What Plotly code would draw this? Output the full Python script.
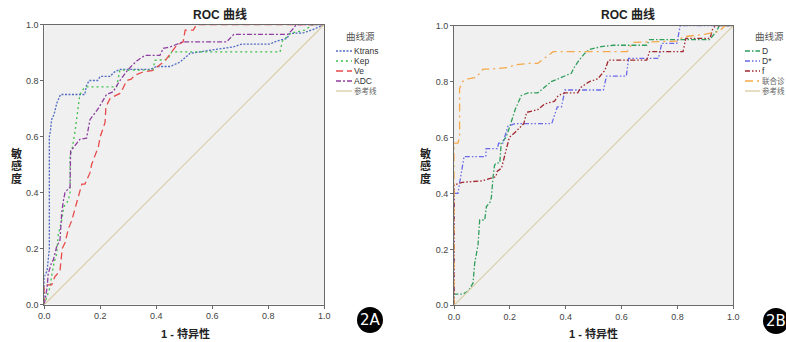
import plotly.graph_objects as go

W, H = 786, 342

# ---------------- data ----------------
ticks = [0.0, 0.2, 0.4, 0.6, 0.8, 1.0]
ref_line = [0.0, 1.0]

# Panel A
ktrans_fpr = [0, 0, 0.01, 0.018, 0.018, 0.022, 0.026, 0.035, 0.045, 0.058, 0.145, 0.15, 0.16, 0.19, 0.2, 0.235, 0.25, 0.27, 0.38, 0.4, 0.45, 0.485, 0.52, 0.556, 0.64, 0.675, 0.705, 0.806, 0.83, 0.866, 0.877, 0.925, 0.96, 1]
ktrans_tpr = [0, 0.1, 0.12, 0.2, 0.6, 0.62, 0.66, 0.68, 0.72, 0.75, 0.75, 0.78, 0.8, 0.8, 0.815, 0.815, 0.83, 0.84, 0.84, 0.85, 0.85, 0.866, 0.897, 0.902, 0.914, 0.92, 0.93, 0.93, 0.941, 0.95, 0.968, 0.97, 0.982, 1]

kep_fpr = [0, 0.01, 0.02, 0.026, 0.035, 0.044, 0.05, 0.062, 0.07, 0.085, 0.092, 0.092, 0.1, 0.11, 0.116, 0.12, 0.127, 0.14, 0.151, 0.258, 0.27, 0.388, 0.395, 0.44, 0.455, 0.842, 0.85, 0.88, 0.93, 0.96, 1]
kep_tpr = [0, 0.03, 0.06, 0.1, 0.15, 0.18, 0.25, 0.3, 0.35, 0.37, 0.4, 0.53, 0.56, 0.62, 0.66, 0.7, 0.75, 0.77, 0.777, 0.777, 0.837, 0.837, 0.872, 0.875, 0.902, 0.902, 0.94, 0.969, 0.98, 1, 1]

ve_fpr = [0, 0, 0.026, 0.038, 0.056, 0.064, 0.074, 0.086, 0.098, 0.127, 0.134, 0.145, 0.163, 0.169, 0.193, 0.2, 0.211, 0.217, 0.22, 0.235, 0.27, 0.28, 0.294, 0.31, 0.324, 0.354, 0.385, 0.395, 0.431, 0.455, 0.473, 0.496, 0.503, 0.532, 0.544, 1]
ve_tpr = [0, 0.07, 0.07, 0.1, 0.12, 0.2, 0.22, 0.27, 0.3, 0.4, 0.43, 0.43, 0.47, 0.5, 0.563, 0.6, 0.629, 0.65, 0.706, 0.736, 0.754, 0.77, 0.8, 0.805, 0.819, 0.831, 0.835, 0.843, 0.87, 0.902, 0.926, 0.938, 0.98, 0.98, 1, 1]

adc_fpr = [0, 0.005, 0.01, 0.014, 0.026, 0.032, 0.044, 0.056, 0.06, 0.062, 0.068, 0.074, 0.092, 0.094, 0.104, 0.127, 0.151, 0.163, 0.193, 0.222, 0.246, 0.27, 0.3, 0.33, 0.36, 0.413, 0.425, 0.45, 0.495, 0.651, 0.677, 0.87, 0.89, 0.9, 1]
adc_tpr = [0, 0.03, 0.06, 0.11, 0.15, 0.158, 0.206, 0.23, 0.3, 0.325, 0.37, 0.4, 0.42, 0.55, 0.56, 0.59, 0.594, 0.66, 0.7, 0.75, 0.76, 0.8, 0.84, 0.87, 0.89, 0.89, 0.915, 0.92, 0.938, 0.938, 0.965, 0.965, 0.986, 1, 1]

# Panel B
d_fpr = [0, 0, 0.032, 0.05, 0.068, 0.074, 0.086, 0.092, 0.11, 0.116, 0.13, 0.134, 0.14, 0.145, 0.15, 0.164, 0.169, 0.186, 0.2, 0.219, 0.241, 0.265, 0.3, 0.325, 0.348, 0.373, 0.397, 0.42, 0.43, 0.443, 0.467, 0.485, 0.527, 0.57, 0.69, 0.7, 0.915, 0.94, 0.95, 1]
d_tpr = [0, 0.04, 0.04, 0.05, 0.079, 0.15, 0.216, 0.305, 0.305, 0.353, 0.37, 0.388, 0.46, 0.5, 0.508, 0.51, 0.58, 0.6, 0.64, 0.7, 0.75, 0.76, 0.76, 0.78, 0.8, 0.81, 0.82, 0.83, 0.85, 0.87, 0.9, 0.915, 0.925, 0.93, 0.93, 0.95, 0.95, 0.98, 1, 1]

dstar_fpr = [0, 0, 0.014, 0.025, 0.036, 0.114, 0.115, 0.155, 0.16, 0.175, 0.193, 0.22, 0.35, 0.37, 0.385, 0.397, 0.535, 0.546, 0.617, 0.625, 0.732, 0.744, 0.798, 0.81, 1]
dstar_tpr = [0, 0.4, 0.4, 0.473, 0.532, 0.532, 0.56, 0.56, 0.58, 0.58, 0.64, 0.65, 0.65, 0.71, 0.71, 0.77, 0.77, 0.82, 0.82, 0.883, 0.883, 0.937, 0.937, 1, 1]

f_fpr = [0, 0, 0.03, 0.1, 0.15, 0.155, 0.17, 0.185, 0.198, 0.22, 0.25, 0.26, 0.3, 0.325, 0.36, 0.373, 0.397, 0.443, 0.455, 0.485, 0.515, 0.54, 0.553, 0.69, 0.7, 0.82, 0.83, 0.917, 0.925, 0.936, 1]
f_tpr = [0, 0.43, 0.44, 0.445, 0.46, 0.48, 0.49, 0.55, 0.6, 0.62, 0.65, 0.69, 0.7, 0.72, 0.73, 0.75, 0.76, 0.76, 0.78, 0.8, 0.81, 0.84, 0.877, 0.877, 0.907, 0.907, 0.955, 0.955, 0.985, 1, 1]

comb_fpr = [0, 0, 0.014, 0.02, 0.02, 0.03, 0.05, 0.08, 0.104, 0.13, 0.19, 0.22, 0.265, 0.3, 0.355, 0.62, 0.64, 0.8, 0.82, 0.9, 0.95, 0.97, 1]
comb_tpr = [0, 0.58, 0.58, 0.6, 0.775, 0.8, 0.81, 0.815, 0.845, 0.845, 0.85, 0.86, 0.865, 0.865, 0.907, 0.907, 0.94, 0.945, 0.96, 0.97, 0.98, 1, 1]

REF_COLOR = "#D9CDA5"
series_a = [
    ("Ktrans", ktrans_fpr, ktrans_tpr, "#4F6BC2", "2px,1.5px"),
    ("Kep", kep_fpr, kep_tpr, "#3DBF4A", "2px,3px"),
    ("Ve", ve_fpr, ve_tpr, "#E84A4A", "7px,4px"),
    ("ADC", adc_fpr, adc_tpr, "#8E3FA0", "5px,2px,2px,2px"),
    ("参考线", ref_line, ref_line, REF_COLOR, "solid"),
]
series_b = [
    ("D", d_fpr, d_tpr, "#2E9E5B", "5px,2px,1.5px,2px"),
    ("D*", dstar_fpr, dstar_tpr, "#6A6AE8", "5px,2px,1.5px,2px,1.5px,2px"),
    ("f", f_fpr, f_tpr, "#A0282E", "5px,2px,1.5px,2px,1.5px,2px"),
    ("联合诊", comb_fpr, comb_tpr, "#F5A94A", "8px,4px,2px,4px"),
    ("参考线", ref_line, ref_line, REF_COLOR, "solid"),
]

# ---------------- layout helpers (pixels -> paper) ----------------
def px(x):
    return x / W

def py(y):
    return 1 - y / H

LAT = "Liberation Sans, Arial, sans-serif"
CJK = "Liberation Sans, Noto Sans CJK SC, sans-serif"

fig = go.Figure()

panels = [
    dict(series=series_a, xa="x", ya="y", x0=44.3, x1=324.3, y0=304.5, y1=24.5,
         title_x=220, ylab_x=16, xlab_x=185, leg_line=(336, 352), leg_text=353,
         leg_title_x=360, badge=(370, 320, "2A")),
    dict(series=series_b, xa="x2", ya="y2", x0=454, x1=733.3, y0=305.3, y1=25.7,
         title_x=628, ylab_x=425, xlab_x=593, leg_line=(745, 760), leg_text=761,
         leg_title_x=769, badge=(776, 321, "2B")),
]

shapes = []
annotations = []

def note(text, x, y, size, color, family=CJK, xanchor="center"):
    annotations.append(dict(text=text, x=px(x), y=py(y), xref="paper", yref="paper",
                            showarrow=False, xanchor=xanchor, yanchor="middle",
                            borderpad=0, font=dict(size=size, color=color, family=family)))

for i, p in enumerate(panels):
    for name, xs, ys, color, dash in p["series"]:
        fig.add_trace(go.Scatter(
            x=xs, y=ys, mode="lines", name=name, showlegend=False,
            line=dict(color=color, width=1.3 if name != "参考线" else 1.1, dash=dash),
            xaxis=p["xa"], yaxis=p["ya"], hoverinfo="skip",
        ))
    note("<b>ROC 曲线</b>", p["title_x"], 14, 12, "#222")
    for k, ch in enumerate("敏感度"):
        note("<b>%s</b>" % ch, p["ylab_x"], 153 + 12.5 * k, 11, "#222")
    note("<b>1 - 特异性</b>", p["xlab_x"], 333, 11, "#222")
    note("曲线源", p["leg_title_x"], 36, 9.5, "#555")
    for k, (name, xs, ys, color, dash) in enumerate(p["series"]):
        yy = 51 + 10 * k
        shapes.append(dict(type="line", xref="paper", yref="paper",
                           x0=px(p["leg_line"][0]), x1=px(p["leg_line"][1]),
                           y0=py(yy), y1=py(yy),
                           line=dict(color=color, width=1.3, dash=dash)))
        if name.isascii():
            note(name, p["leg_text"], yy, 8.5, "#333", xanchor="left")
        else:
            note(name, p["leg_text"], yy, 7.5, "#666", xanchor="left")
    bx, by, btxt = p["badge"]
    r = 13
    shapes.append(dict(type="circle", xref="paper", yref="paper",
                       x0=px(bx - r), x1=px(bx + r), y0=py(by + r), y1=py(by - r),
                       fillcolor="black", line=dict(color="black", width=0)))
    note(btxt, bx, by, 15, "white", family="DejaVu Sans, sans-serif")

axis_common = dict(range=[0, 1], tickvals=ticks, ticktext=["%.1f" % t for t in ticks],
                   showgrid=False, zeroline=False, showline=True, mirror=True,
                   linecolor="#6a6a6a", linewidth=1, ticks="outside", ticklen=3,
                   tickcolor="#6a6a6a", tickfont=dict(size=9, color="#444", family=LAT),
                   fixedrange=True, automargin=False)

pa, pb = panels
fig.update_layout(
    width=W, height=H,
    margin=dict(l=0, r=0, t=0, b=0, autoexpand=False),
    paper_bgcolor="white",
    plot_bgcolor="#F0F0F0",
    showlegend=False,
    xaxis=dict(domain=[px(pa["x0"]), px(pa["x1"])], anchor="y", **axis_common),
    yaxis=dict(domain=[py(pa["y0"]), py(pa["y1"])], anchor="x", **axis_common),
    xaxis2=dict(domain=[px(pb["x0"]), px(pb["x1"])], anchor="y2", **axis_common),
    yaxis2=dict(domain=[py(pb["y0"]), py(pb["y1"])], anchor="x2", **axis_common),
    shapes=shapes,
    annotations=annotations,
)

fig.write_html("out.html", config={"displayModeBar": False},
               post_script="document.body.style.margin='0px';document.body.style.overflow='hidden';")
